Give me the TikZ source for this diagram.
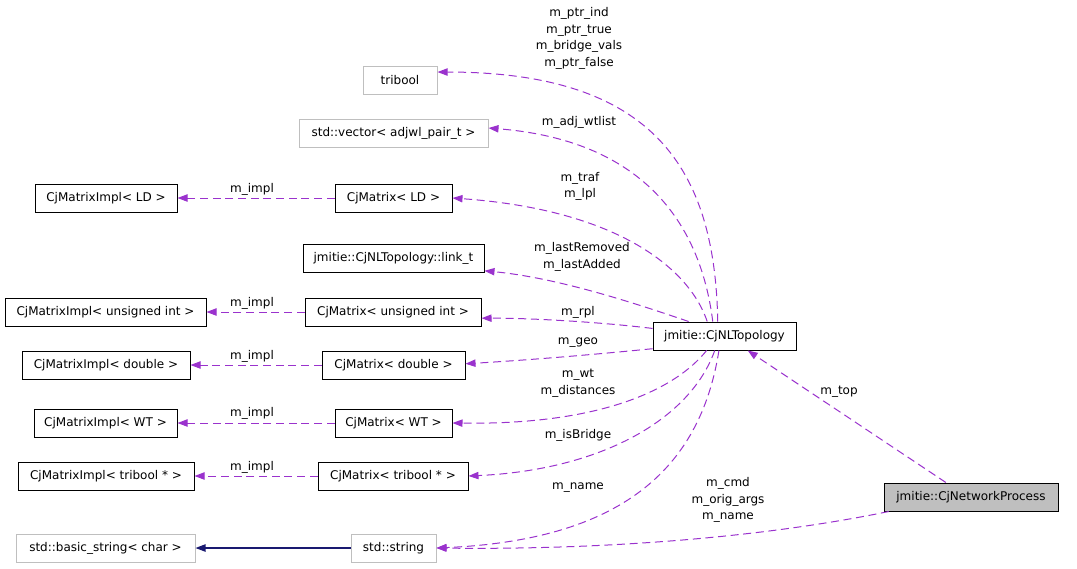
\documentclass[tikz,border=0pt]{standalone}
\usepackage{fontspec}
\setmainfont{DejaVu Sans}
\usetikzlibrary{arrows.meta}
\definecolor{edgepurple}{HTML}{9A32CD}
\definecolor{edgeblue}{HTML}{191970}
\definecolor{boxgray}{HTML}{BFBFBF}

\begin{document}
\begin{tikzpicture}[x=0.75pt, y=-0.75pt,
    font=\fontsize{9}{12.5}\selectfont,
    cls/.style={draw=black, fill=white, line width=0.75pt, minimum height=21pt, inner sep=0pt},
    ext/.style={cls, draw=boxgray},
    lbl/.style={align=center, inner sep=0pt},
    member/.style={edgepurple, line width=0.75pt, dash pattern=on 6pt off 3.5pt,
        -{Triangle[length=7.5pt,width=5.5pt]}},
    inherit/.style={edgeblue, line width=0.9pt, -{Triangle[length=7.5pt,width=5.5pt]}}]
    \useasboundingbox (0,0) rectangle (1077,568);

    % Classes
    \node[ext, minimum width=55.5pt] (tribool) at (400,80) {tribool};
    \node[ext, minimum width=141.75pt] (vec) at (393.5,133) {std::vector< adjwl\_pair\_t >};
    \node[cls, minimum width=106.5pt] (implLD) at (106,198) {CjMatrixImpl< LD >};
    \node[cls, minimum width=87.75pt] (matLD) at (393.5,198) {CjMatrix< LD >};
    \node[cls, minimum width=135.75pt] (linkt) at (393.5,258) {jmitie::CjNLTopology::link\_t};
    \node[cls, minimum width=150.75pt] (implUI) at (105.5,312) {CjMatrixImpl< unsigned int >};
    \node[cls, minimum width=132pt] (matUI) at (393,312) {CjMatrix< unsigned int >};
    \node[cls, minimum width=126pt] (implD) at (106,365) {CjMatrixImpl< double >};
    \node[cls, minimum width=107.25pt] (matD) at (393.5,365) {CjMatrix< double >};
    \node[cls, minimum width=107.25pt] (implWT) at (105.5,423) {CjMatrixImpl< WT >};
    \node[cls, minimum width=87.75pt] (matWT) at (393.5,423) {CjMatrix< WT >};
    \node[cls, minimum width=132pt] (implTB) at (106,476) {CjMatrixImpl< tribool * >};
    \node[cls, minimum width=112.5pt] (matTB) at (393,476) {CjMatrix< tribool * >};
    \node[ext, minimum width=134.25pt] (bstr) at (105.5,548) {std::basic\_string< char >};
    \node[ext, minimum width=63.75pt] (str) at (393.5,548) {std::string};
    \node[cls, minimum width=107.25pt] (topo) at (724.5,336) {jmitie::CjNLTopology};
    \node[cls, fill=boxgray, minimum width=130.5pt] (proc) at (971,497) {jmitie::CjNetworkProcess};

    % Members of the topology
    \draw[member] (topo.115) .. controls (715,170) and (655,72) .. (tribool.12);
    \draw[member] (topo.129) .. controls (700,220) and (640,140) .. (vec.3);
    \draw[member] (topo.140) .. controls (690,270) and (620,210) .. (matLD.east);
    \draw[member] (topo.158) .. controls (640,305) and (560,278) .. (linkt.-8);
    \draw[member] (topo.174) .. controls (600,322) and (530,318) .. (matUI.-4);
    \draw[member] (topo.190) .. controls (600,354) and (530,360) .. (matD.1);
    \draw[member] (topo.219) .. controls (675,390) and (600,425) .. (matWT.east);
    \draw[member] (topo.236) .. controls (690,420) and (600,470) .. (matTB.east);
    \draw[member] (topo.249) .. controls (700,470) and (620,540) .. (str.east);

    % Members of the process
    \draw[member] (proc.190) .. controls (760,538) and (600,550) .. (str.east);
    \draw[member] (proc.150) -- (topo.-32);

    % Matrix implementations
    \draw[member] (matLD.west) -- (implLD.east);
    \draw[member] (matUI.west) -- (implUI.east);
    \draw[member] (matD.west) -- (implD.east);
    \draw[member] (matWT.west) -- (implWT.east);
    \draw[member] (matTB.west) -- (implTB.east);

    % Inheritance
    \draw[inherit] (str.west) -- (bstr.east);

    % Edge labels
    \node[lbl] (lptr) at (579,38.5) {m\_ptr\_ind\\m\_ptr\_true\\m\_bridge\_vals\\m\_ptr\_false};
    \node[lbl] (ladj) at (579,122) {m\_adj\_wtlist};
    \node[lbl] (ltraf) at (580,186.5) {m\_traf\\m\_lpl};
    \node[lbl] (llast) at (582,257) {m\_lastRemoved\\m\_lastAdded};
    \node[lbl] (lrpl) at (578,312) {m\_rpl};
    \node[lbl] (lgeo) at (578,343) {m\_geo};
    \node[lbl] (lwt) at (578,383) {m\_wt\\m\_distances};
    \node[lbl] (lbridge) at (578,435) {m\_isBridge};
    \node[lbl] (lname) at (578,488) {m\_name};
    \node[lbl] (lcmd) at (728,500) {m\_cmd\\m\_orig\_args\\m\_name};
    \node[lbl] (ltop) at (839,392) {m\_top};
    \node[lbl] (li1) at (252,189) {m\_impl};
    \node[lbl] (li2) at (252,303) {m\_impl};
    \node[lbl] (li3) at (252,356) {m\_impl};
    \node[lbl] (li4) at (252,413) {m\_impl};
    \node[lbl] (li5) at (252,467) {m\_impl};
\end{tikzpicture}
\end{document}
